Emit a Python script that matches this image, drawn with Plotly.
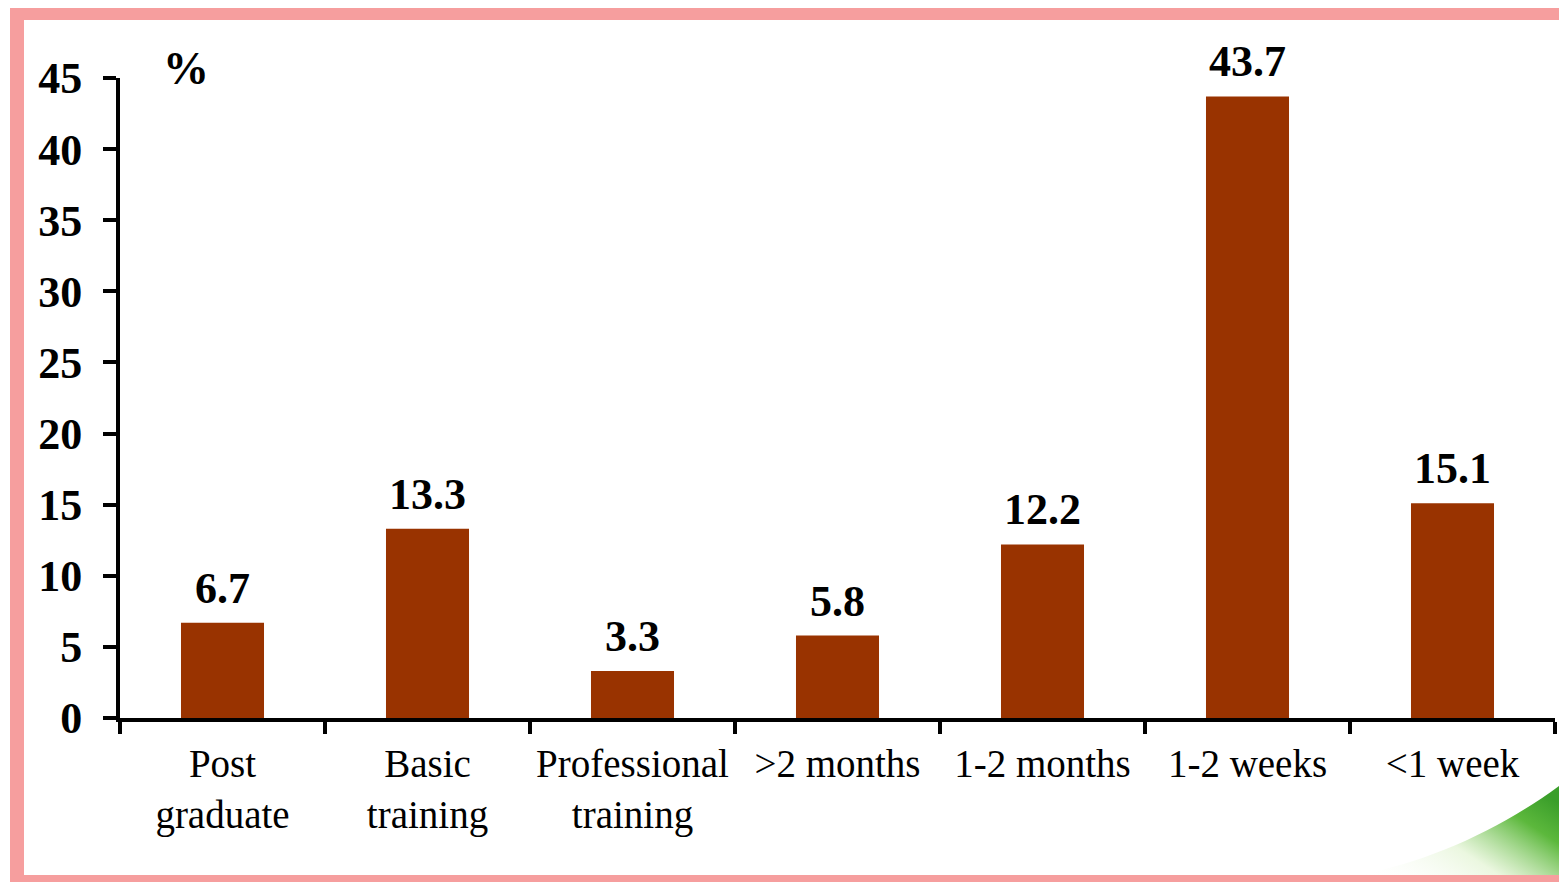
import base64
import plotly.graph_objects as go

# data
categories = ["Post<br>graduate", "Basic<br>training", "Professional<br>training",
              ">2 months", "1-2 months", "1-2 weeks", "<1 week"]
values = [6.7, 13.3, 3.3, 5.8, 12.2, 43.7, 15.1]
labels = ["6.7", "13.3", "3.3", "5.8", "12.2", "43.7", "15.1"]
y_ticks = [0, 5, 10, 15, 20, 25, 30, 35, 40, 45]

# page body adds an 8px margin, so the figure is drawn 8px smaller
OFF = 8
W, H = 1567 - OFF, 882 - OFF
L, R, T, B = 120 - OFF, 12, 78 - OFF, 164
FONT = "Liberation Serif"


# reference pixel -> paper coordinates
def px(x):
    return (x - OFF - L) / (W - L - R)


def py(y):
    return (H - B - (y - OFF)) / (H - T - B)


fig = go.Figure()
fig.add_trace(go.Bar(x=categories, y=values, marker_color="#993300",
                     marker_line_width=0, width=0.405))

# value labels above bars
for c, v, t in zip(categories, values, labels):
    fig.add_annotation(x=c, y=v, text="<b>" + t + "</b>", showarrow=False,
                       yanchor="bottom", yshift=8,
                       font=dict(family=FONT, size=44, color="black"))

fig.add_annotation(x=px(186), y=py(68), xref="paper", yref="paper",
                   xanchor="center", yanchor="middle",
                   text="<b>%</b>", showarrow=False,
                   font=dict(family=FONT, size=46, color="black"))

# dotted pink frame (left, top, bottom)
frame = "rgb(246,158,158)"
for x0, y0, x1, y1 in [(10, 8, 24, 882), (10, 8, 1567, 20), (10, 875, 1567, 882)]:
    fig.add_shape(type="rect", xref="paper", yref="paper",
                  x0=px(x0), x1=px(x1), y0=py(y0), y1=py(y1),
                  fillcolor=frame, line_width=0, layer="below")

# green swoosh bottom right
svg = """<svg xmlns='http://www.w3.org/2000/svg' width='200' height='100' viewBox='0 0 200 100'>
<defs><linearGradient id='g' x1='0' y1='1' x2='1' y2='0.3'>
<stop offset='0' stop-color='#ffffff' stop-opacity='0'/>
<stop offset='0.45' stop-color='#e6f5d8' stop-opacity='0.8'/>
<stop offset='0.8' stop-color='#5cb83c'/>
<stop offset='1' stop-color='#3a9e2a'/></linearGradient></defs>
<path d='M0,100 C70,85 140,50 200,0 L200,100 Z' fill='url(#g)'/></svg>"""
src = "data:image/svg+xml;base64," + base64.b64encode(svg.encode()).decode()
fig.add_layout_image(source=src, xref="paper", yref="paper",
                     x=px(1360), y=py(780), sizex=px(1567) - px(1360),
                     sizey=py(780) - py(875), xanchor="left", yanchor="top",
                     sizing="stretch", layer="below")

fig.update_layout(
    width=W, height=H,
    margin=dict(l=L, r=R, t=T, b=B),
    paper_bgcolor="white", plot_bgcolor="white",
    showlegend=False, bargap=0.6,
)
fig.update_xaxes(showline=True, linecolor="black", linewidth=4,
                 ticks="outside", tickson="boundaries", ticklen=12,
                 tickwidth=4, tickcolor="black", ticklabelstandoff=8,
                 tickfont=dict(family=FONT, size=39, color="black"),
                 showgrid=False)
fig.update_yaxes(range=[0, 45], tickvals=y_ticks, showline=True,
                 linecolor="black", linewidth=4, ticks="outside",
                 ticklen=13, tickwidth=4, tickcolor="black",
                 ticklabelstandoff=12,
                 tickfont=dict(family=FONT, size=44, color="black", weight="bold"),
                 showgrid=False, zeroline=False)

fig.write_html("out.html")
